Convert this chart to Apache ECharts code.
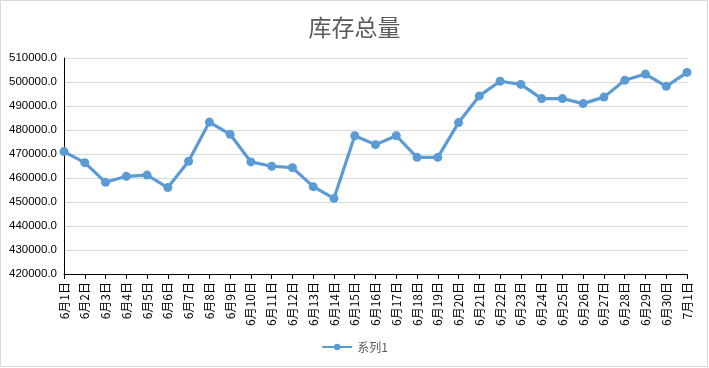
<!DOCTYPE html>
<html><head><meta charset="utf-8">
<script src="https://cdn.jsdelivr.net/npm/echarts@6/dist/echarts.min.js"></script>
<style>html,body{margin:0;padding:0;background:#fff;}#c{width:709px;height:368px;}</style>
</head><body><div id="c"></div>
<script>
const categories = ['6月1日','6月2日','6月3日','6月4日','6月5日','6月6日','6月7日','6月8日','6月9日','6月10日','6月11日','6月12日','6月13日','6月14日','6月15日','6月16日','6月17日','6月18日','6月19日','6月20日','6月21日','6月22日','6月23日','6月24日','6月25日','6月26日','6月27日','6月28日','6月29日','6月30日','7月1日'];
const series1 = [471000,466400,458200,460700,461200,456000,467000,483300,478200,466700,464900,464300,456400,451500,477600,473900,477600,468600,468600,483100,494200,500300,499000,493100,493100,491000,493700,500700,503300,498200,504000];
const yMin = 420000, yMax = 510000, yStep = 10000;

const chart = echarts.init(document.getElementById('c'));
chart.setOption({
  animation: false,
  backgroundColor: '#fff',
  graphic: [{type:'rect', shape:{x:0.5,y:0.5,width:707,height:366}, style:{fill:'none', stroke:'#d9d9d9', lineWidth:1}}],
  title: {text:'库存总量', left:'center', top:11, textStyle:{fontFamily:'Noto Sans CJK SC', fontSize:23, fontWeight:'normal', color:'#595959'}},
  grid: {left:64, right:22, top:58, bottom:94},
  legend: {bottom:10, left:'center', itemWidth:30, itemHeight:8, data:['系列1'], textStyle:{fontFamily:'Noto Sans CJK SC', fontSize:12, color:'#595959'}},
  xAxis: {type:'category', data:categories, boundaryGap:false,
    axisLine:{lineStyle:{color:'#000', width:1}},
    axisTick:{show:true, length:5, lineStyle:{color:'#000'}, alignWithLabel:true},
    axisLabel:{rotate:90, interval:0, margin:8, fontFamily:'Noto Sans CJK SC', fontSize:12, color:'#000'}},
  yAxis: {type:'value', min:yMin, max:yMax, interval:yStep,
    axisLine:{show:true, lineStyle:{color:'#000', width:1}},
    axisTick:{show:false},
    splitLine:{lineStyle:{color:'#d9d9d9'}},
    axisLabel:{margin:7, fontFamily:'Liberation Sans', fontSize:11.5, color:'#000', formatter:v=>v.toFixed(1)}},
  series: [{name:'系列1', type:'line', data:series1, symbol:'circle', symbolSize:9,
    lineStyle:{color:'#5b9bd5', width:3.2}, itemStyle:{color:'#5b9bd5'}}]
});
</script></body></html>
